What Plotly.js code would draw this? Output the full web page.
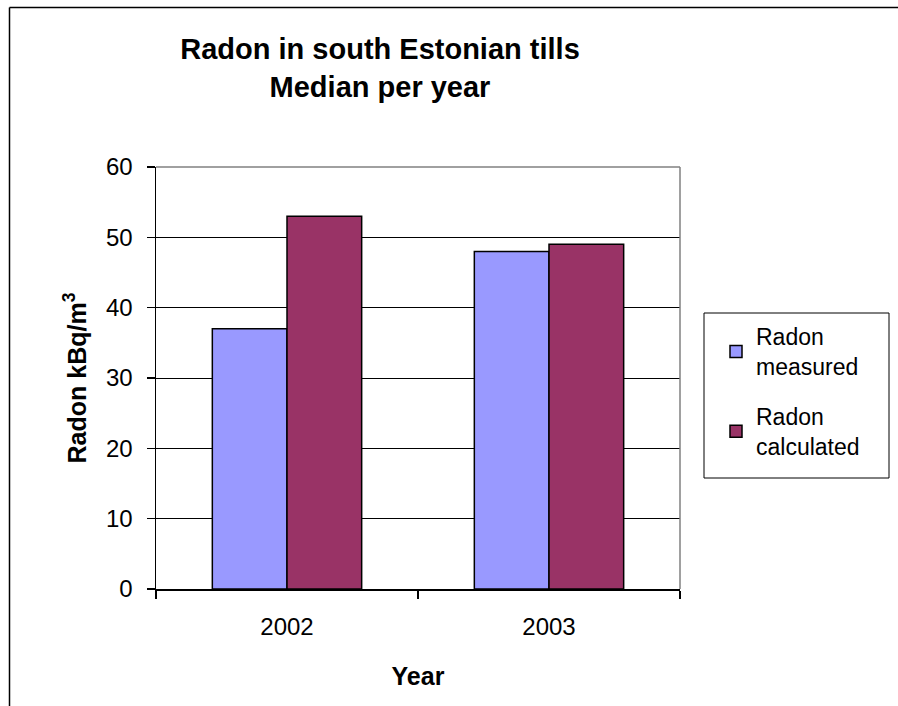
<!DOCTYPE html>
<html>
<head>
<meta charset="utf-8">
<script src="https://cdn.plot.ly/plotly-3.0.1.min.js"></script>
<style>
  html, body { margin: 0; padding: 0; background: #fff; }
  #chart { width: 898px; height: 706px; }
</style>
</head>
<body>
<div id="chart"></div>
<script>
// ---- data ----
const years = ["2002", "2003"];
const radonMeasured = [37, 48];
const radonCalculated = [53, 49];
const seriesNames = ["Radon<br>measured", "Radon<br>calculated"];
const yTickVals = [0, 10, 20, 30, 40, 50, 60];

// ---- layout constants (pixels) ----
const W = 898, H = 706;
const mL = 156, mR = 218, mT = 167, mB = 117;
const pw = W - mL - mR, ph = H - mT - mB;
const px = v => (v - mL) / pw;            // pixel x -> paper x
const py = v => (H - mB - v) / ph;        // pixel y -> paper y

const FONT = "Liberation Sans, Arial, sans-serif";

const traces = [
  {
    type: "bar", x: years, y: radonMeasured, name: seriesNames[0],
    legendgroup: "a",
    marker: { color: "#9999FF", line: { color: "#000000", width: 1.5 } }
  },
  {
    type: "bar", x: years, y: radonCalculated, name: seriesNames[1],
    legendgroup: "b",
    marker: { color: "#993366", line: { color: "#000000", width: 1.5 } }
  }
];

const layout = {
  width: W, height: H,
  margin: { l: mL, r: mR, t: mT, b: mB, pad: 0 },
  paper_bgcolor: "#ffffff",
  plot_bgcolor: "#ffffff",
  font: { family: FONT, color: "#000000" },
  barmode: "group",
  bargap: 0.43,
  bargroupgap: 0,
  title: {
    text: "Radon in south Estonian tills<br>Median per year",
    font: { family: FONT, size: 29, color: "#000000", weight: "bold" },
    x: 380 / W, xref: "container", xanchor: "center",
    y: 1 - 59 / H, yref: "container", yanchor: "top"
  },
  xaxis: {
    type: "category",
    showline: true, linecolor: "#000000", linewidth: 1.5,
    ticks: "outside", ticklen: 8, tickcolor: "#000000", tickwidth: 1.5,
    tickson: "boundaries",
    tickfont: { family: FONT, size: 24, color: "#000000" },
    ticklabelstandoff: 16,
    showgrid: false, zeroline: false,
    title: { text: "<b>Year</b>", font: { family: FONT, size: 25, color: "#000000" }, standoff: 28 }
  },
  yaxis: {
    range: [0, 60],
    tickvals: yTickVals,
    showline: true, linecolor: "#000000", linewidth: 1.5,
    ticks: "outside", ticklen: 8, tickcolor: "#000000", tickwidth: 1.5,
    tickfont: { family: FONT, size: 24, color: "#000000" },
    ticklabelstandoff: 9,
    showgrid: true, gridcolor: "#000000", gridwidth: 1,
    zeroline: false,
    title: { text: "<b>Radon kBq/m<sup>3</sup></b>", font: { family: FONT, size: 25, color: "#000000" }, standoff: 12 }
  },
  showlegend: true,
  legend: {
    x: px(716), y: py(315), xanchor: "left", yanchor: "top",
    xref: "paper", yref: "paper",
    bgcolor: "rgba(0,0,0,0)", borderwidth: 0,
    font: { family: FONT, size: 23, color: "#000000" },
    traceorder: "grouped", tracegroupgap: 17,
    itemwidth: 30
  },
  shapes: [
    // gray plot-area border (top & right)
    { type: "line", xref: "paper", yref: "paper", layer: "above",
      x0: 0, x1: 1, y0: 1, y1: 1, line: { color: "#808080", width: 1.5 } },
    { type: "line", xref: "paper", yref: "paper", layer: "above",
      x0: 1, x1: 1, y0: 0, y1: 1, line: { color: "#808080", width: 1.5 } },
    // legend box
    { type: "rect", xref: "paper", yref: "paper", layer: "above",
      x0: px(704), x1: px(889), y0: py(313), y1: py(478),
      line: { color: "#000000", width: 1 }, fillcolor: "rgba(0,0,0,0)" },
    // outer chart border (left & top, continues off-canvas)
    { type: "line", xref: "paper", yref: "paper", layer: "above",
      x0: px(9.5), x1: px(9.5), y0: py(7.5), y1: py(H + 20), line: { color: "#000000", width: 1.5 } },
    { type: "line", xref: "paper", yref: "paper", layer: "above",
      x0: px(9.5), x1: px(W + 20), y0: py(7.5), y1: py(7.5), line: { color: "#000000", width: 1.5 } }
  ]
};

Plotly.newPlot("chart", traces, layout, { displayModeBar: false, staticPlot: true });
</script>
</body>
</html>
